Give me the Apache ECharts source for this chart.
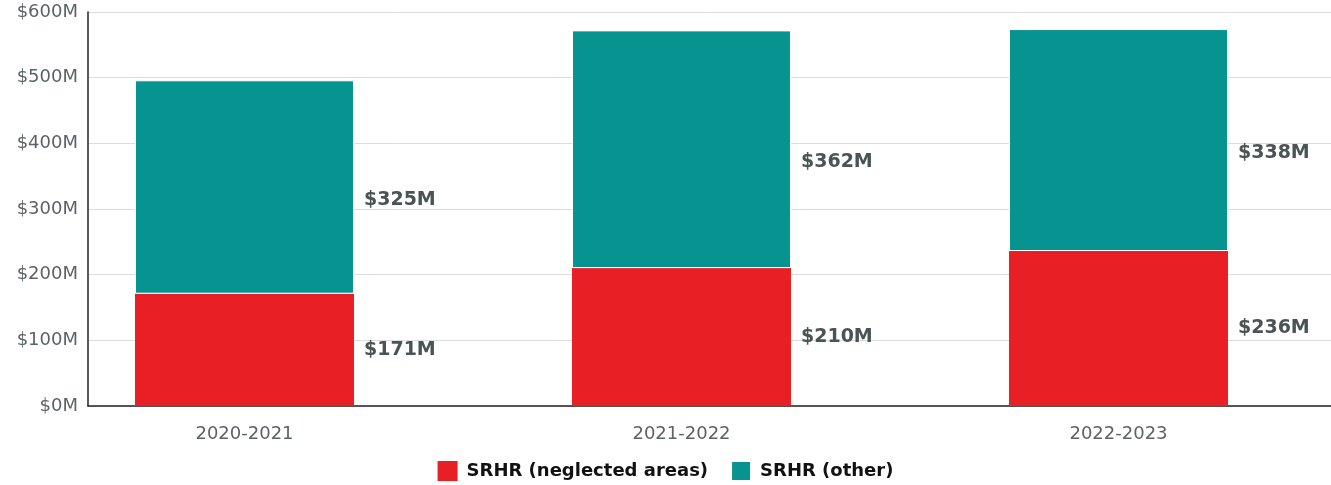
<!DOCTYPE html>
<html>
<head>
<meta charset="utf-8">
<script src="https://cdn.jsdelivr.net/npm/echarts@6/dist/echarts.min.js"></script>
<style>
  html, body { margin: 0; padding: 0; background: #ffffff; }
  #chart { width: 1331px; height: 485px; }
</style>
</head>
<body>
<div id="chart"></div>
<script>
// Funding years and amounts (USD millions)
const categories = ['2020-2021', '2021-2022', '2022-2023'];
const neglectedAreas = [171, 210, 236];
const otherSrhr = [325, 362, 338];
const seriesNames = ['SRHR (neglected areas)', 'SRHR (other)'];
const yTicks = [0, 100, 200, 300, 400, 500, 600];

const FONT = '"DejaVu Sans", sans-serif';
const RED = '#e91f26';
const TEAL = '#079390';

const chart = echarts.init(document.getElementById('chart'), null, { renderer: 'canvas' });

// each row is [amount, position]; positions 0,1,2 on a numeric x axis so the
// plot can run past the outer bars. Amount comes first so it is the stacked dimension.
const toRows = arr => arr.map((v, i) => [v, i]);
const money = v => '$' + v + 'M';

const valueLabel = {
  show: true,
  position: 'right',
  distance: 10,
  formatter: p => money(p.value[0]),
  fontFamily: FONT,
  fontSize: 19,
  fontWeight: 'bold',
  color: '#4a5454'
};

chart.setOption({
  animation: false,
  backgroundColor: '#ffffff',
  grid: { left: 88, right: 0, top: 12, bottom: 79, containLabel: false },
  legend: {
    top: 455,
    left: 'center',
    icon: 'rect',
    itemWidth: 20,
    itemHeight: 20,
    itemGap: 22,
    textStyle: { fontFamily: FONT, fontSize: 18, fontWeight: 'bold', color: '#111111', padding: [0, 0, 0, 4] },
    data: seriesNames
  },
  xAxis: {
    type: 'value',
    min: -0.3581,
    max: 2.4863,
    splitLine: { show: false },
    axisTick: { show: false },
    axisLine: { show: true, onZero: false, lineStyle: { color: '#222222', width: 1.5 } },
    axisLabel: {
      customValues: categories.map((c, i) => i),
      formatter: v => categories[Math.round(v)] || '',
      margin: 19,
      fontFamily: FONT,
      fontSize: 18,
      color: '#5a6465'
    }
  },
  yAxis: {
    type: 'value',
    min: yTicks[0],
    max: yTicks[yTicks.length - 1],
    interval: 100,
    axisLine: { show: true, onZero: false, lineStyle: { color: '#222222', width: 1.5 } },
    axisTick: { show: false },
    splitLine: { show: true, lineStyle: { color: '#dddddd', width: 1 } },
    axisLabel: {
      formatter: money,
      margin: 10,
      fontFamily: FONT,
      fontSize: 18,
      color: '#5a6465'
    }
  },
  series: [
    {
      name: seriesNames[0],
      type: 'bar',
      stack: 'total',
      barWidth: 219,
      encode: { x: 1, y: 0 },
      data: toRows(neglectedAreas),
      itemStyle: { color: RED },
      label: Object.assign({}, valueLabel, { offset: [0, 0] })
    },
    {
      name: seriesNames[1],
      type: 'bar',
      stack: 'total',
      barWidth: 219,
      encode: { x: 1, y: 0 },
      data: toRows(otherSrhr),
      itemStyle: { color: TEAL, borderColor: '#ffffff', borderWidth: 1 },
      label: Object.assign({}, valueLabel, { offset: [0, 13] })
    }
  ]
});
</script>
</body>
</html>
